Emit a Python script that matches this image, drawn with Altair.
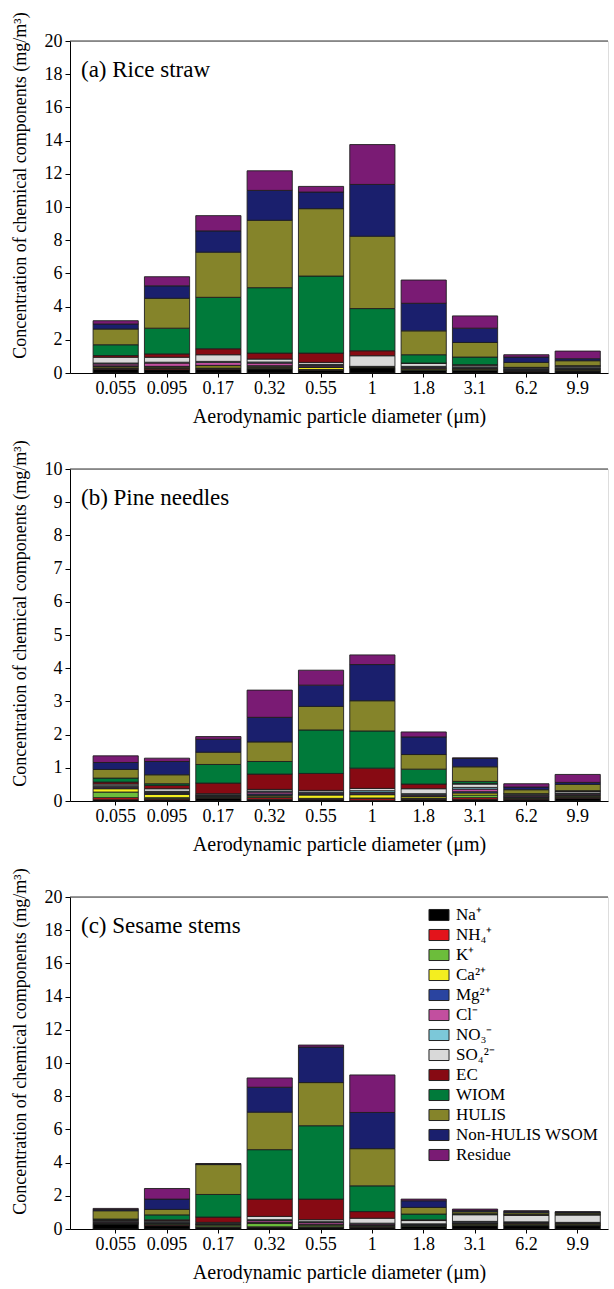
import altair as alt
import pandas as pd

SIZES = ["0.055", "0.095", "0.17", "0.32", "0.55", "1", "1.8", "3.1", "6.2", "9.9"]
COMPONENTS = ["Na⁺", "NH₄⁺", "K⁺", "Ca²⁺", "Mg²⁺", "Cl⁻", "NO₃⁻", "SO₄²⁻",
              "EC", "WIOM", "HULIS", "Non-HULIS WSOM", "Residue"]
COLORS = ["#000000", "#e3141b", "#6cbd3b", "#f4ee1f", "#2a44a0", "#c24f9f",
          "#7cc8d9", "#d9d9d9", "#870a13", "#007a3a", "#85842a", "#1a1f6d", "#7a1b74"]

# (a) Rice straw, one list per component, values per size bin
RICE = {
    "Na⁺":            [0.22, 0.20, 0.22, 0.25, 0.15, 0.32, 0.15, 0.15, 0.10, 0.12],
    "NH₄⁺":           [0.05, 0.08, 0.05, 0.04, 0.03, 0.02, 0.02, 0.02, 0.02, 0.02],
    "K⁺":             [0.05, 0.04, 0.04, 0.04, 0.03, 0.01, 0.03, 0.02, 0.02, 0.02],
    "Ca²⁺":           [0.08, 0.05, 0.12, 0.08, 0.12, 0.02, 0.06, 0.05, 0.03, 0.06],
    "Mg²⁺":           [0.03, 0.03, 0.03, 0.03, 0.05, 0.01, 0.03, 0.03, 0.02, 0.02],
    "Cl⁻":            [0.12, 0.20, 0.18, 0.16, 0.08, 0.01, 0.05, 0.05, 0.03, 0.04],
    "NO₃⁻":           [0.05, 0.05, 0.06, 0.06, 0.06, 0.01, 0.06, 0.05, 0.03, 0.04],
    "SO₄²⁻":          [0.35, 0.30, 0.40, 0.18, 0.12, 0.64, 0.18, 0.10, 0.06, 0.10],
    "EC":             [0.10, 0.20, 0.36, 0.36, 0.56, 0.30, 0.02, 0.03, 0.01, 0.01],
    "WIOM":           [0.65, 1.55, 3.10, 3.94, 4.64, 2.54, 0.50, 0.46, 0.02, 0.01],
    "HULIS":          [0.95, 1.80, 2.72, 4.06, 4.06, 4.36, 1.44, 0.88, 0.30, 0.30],
    "Non-HULIS WSOM": [0.30, 0.75, 1.28, 1.80, 1.00, 3.12, 1.66, 0.86, 0.32, 0.12],
    "Residue":        [0.20, 0.55, 0.92, 1.18, 0.34, 2.40, 1.40, 0.74, 0.14, 0.46],
}

# (b) Pine needles
PINE = {
    "Na⁺":            [0.04, 0.04, 0.08, 0.05, 0.04, 0.02, 0.05, 0.05, 0.04, 0.08],
    "NH₄⁺":           [0.06, 0.03, 0.02, 0.05, 0.02, 0.05, 0.02, 0.05, 0.02, 0.03],
    "K⁺":             [0.17, 0.03, 0.02, 0.03, 0.02, 0.02, 0.02, 0.08, 0.02, 0.03],
    "Ca²⁺":           [0.10, 0.10, 0.02, 0.04, 0.10, 0.10, 0.05, 0.06, 0.02, 0.03],
    "Mg²⁺":           [0.03, 0.03, 0.02, 0.04, 0.03, 0.03, 0.02, 0.04, 0.02, 0.02],
    "Cl⁻":            [0.03, 0.03, 0.02, 0.06, 0.03, 0.04, 0.03, 0.08, 0.03, 0.03],
    "NO₃⁻":           [0.03, 0.03, 0.01, 0.03, 0.03, 0.05, 0.03, 0.05, 0.02, 0.02],
    "SO₄²⁻":          [0.05, 0.08, 0.03, 0.05, 0.05, 0.07, 0.15, 0.10, 0.04, 0.05],
    "EC":             [0.06, 0.10, 0.32, 0.46, 0.51, 0.61, 0.14, 0.02, 0.01, 0.01],
    "WIOM":           [0.12, 0.05, 0.56, 0.38, 1.31, 1.12, 0.45, 0.06, 0.00, 0.01],
    "HULIS":          [0.26, 0.27, 0.37, 0.59, 0.71, 0.91, 0.44, 0.44, 0.12, 0.19],
    "Non-HULIS WSOM": [0.21, 0.40, 0.39, 0.74, 0.64, 1.09, 0.53, 0.25, 0.08, 0.06],
    "Residue":        [0.20, 0.10, 0.08, 0.82, 0.45, 0.29, 0.15, 0.02, 0.10, 0.24],
}

# (c) Sesame stems
SESAME = {
    "Na⁺":            [0.30, 0.20, 0.10, 0.10, 0.10, 0.10, 0.15, 0.20, 0.20, 0.20],
    "NH₄⁺":           [0.03, 0.05, 0.03, 0.03, 0.03, 0.03, 0.02, 0.03, 0.02, 0.02],
    "K⁺":             [0.03, 0.05, 0.10, 0.20, 0.10, 0.05, 0.03, 0.05, 0.04, 0.03],
    "Ca²⁺":           [0.02, 0.03, 0.03, 0.05, 0.03, 0.03, 0.03, 0.05, 0.05, 0.05],
    "Mg²⁺":           [0.02, 0.03, 0.02, 0.03, 0.03, 0.03, 0.02, 0.03, 0.03, 0.03],
    "Cl⁻":            [0.05, 0.05, 0.03, 0.10, 0.10, 0.06, 0.03, 0.05, 0.05, 0.04],
    "NO₃⁻":           [0.02, 0.03, 0.02, 0.05, 0.05, 0.05, 0.03, 0.05, 0.04, 0.03],
    "SO₄²⁻":          [0.05, 0.06, 0.07, 0.20, 0.12, 0.30, 0.20, 0.40, 0.40, 0.45],
    "EC":             [0.03, 0.05, 0.32, 1.04, 1.24, 0.40, 0.04, 0.02, 0.02, 0.01],
    "WIOM":           [0.05, 0.30, 1.36, 2.98, 4.42, 1.55, 0.35, 0.04, 0.03, 0.02],
    "HULIS":          [0.50, 0.33, 1.80, 2.26, 2.60, 2.24, 0.40, 0.12, 0.10, 0.08],
    "Non-HULIS WSOM": [0.07, 0.62, 0.04, 1.50, 2.14, 2.18, 0.40, 0.08, 0.08, 0.06],
    "Residue":        [0.07, 0.64, 0.02, 0.56, 0.12, 2.26, 0.10, 0.08, 0.04, 0.02],
}

FONT = "Liberation Serif"
W, H = 538, 332
YTITLE = "Concentration of chemical components (mg/m³)"
XTITLE = "Aerodynamic particle diameter (μm)"


def to_long(d):
    rows = []
    for ci, comp in enumerate(COMPONENTS):
        for si, s in enumerate(SIZES):
            rows.append({"size": s, "comp": comp, "idx": ci, "value": d[comp][si]})
    return pd.DataFrame(rows)


def panel(d, label, ymax, step, legend):
    color_scale = alt.Scale(domain=COMPONENTS, range=COLORS)
    if legend:
        leg = alt.Legend(
            orient="none", legendX=360, legendY=9, title=None,
            symbolType="M-1.18,-0.65L1.18,-0.65L1.18,0.65L-1.18,0.65Z", symbolSize=289,
            symbolStrokeColor="#222222", symbolStrokeWidth=1, symbolOpacity=1,
            labelFont=FONT, labelFontSize=17, labelColor="black",
            rowPadding=3, labelOffset=8, labelLimit=300,
        )
    else:
        leg = None
    yscale = alt.Scale(domain=[0, ymax], nice=False)
    bars = alt.Chart(to_long(d)).mark_bar(stroke="#1e1e1e", strokeWidth=0.9).encode(
        x=alt.X("size:N", sort=SIZES,
                scale=alt.Scale(paddingInner=0.12, paddingOuter=0.3, align=0.75),
                axis=alt.Axis(title=XTITLE, labelAngle=0, labelFont=FONT, labelFontSize=18,
                              labelColor="black", titleFont=FONT, titleFontSize=20,
                              titleFontWeight="normal", titleColor="black", titlePadding=9,
                              labelPadding=2, tickSize=4, tickColor="black",
                              domainColor="black", grid=False)),
        y=alt.Y("value:Q", stack="zero", scale=yscale,
                axis=alt.Axis(title=YTITLE, values=list(range(0, ymax + 1, step)),
                              labelOverlap=False,
                              labelFont=FONT, labelFontSize=18, labelColor="black",
                              titleFont=FONT, titleFontSize=18, titleFontWeight="normal",
                              titleColor="black", titlePadding=15, labelPadding=3,
                              titleY=144,
                              tickSize=5, tickColor="black", domainColor="black", grid=False)),
        color=alt.Color("comp:N", scale=color_scale, legend=leg, sort=COMPONENTS),
        order=alt.Order("idx:Q", sort="ascending"),
    )
    top = alt.Chart(pd.DataFrame({"t": [label]})).mark_rule(color="#333333", strokeWidth=1).encode(
        y=alt.value(0))
    txt = alt.Chart(pd.DataFrame({"t": [label]})).mark_text(
        align="left", baseline="alphabetic", font=FONT, fontSize=23, color="black").encode(
        text="t:N", x=alt.value(11), y=alt.value(36))
    return alt.layer(bars, top, txt).properties(width=W, height=H)


chart = alt.vconcat(
    panel(RICE, "(a) Rice straw", 20, 2, False),
    panel(PINE, "(b) Pine needles", 10, 1, False),
    panel(SESAME, "(c) Sesame stems", 20, 2, True),
    spacing=12,
).resolve_scale(color="independent").resolve_legend(color="independent").properties(
    padding={"top": 11, "left": 10, "right": 0, "bottom": 0}
).configure_view(stroke=None).configure_axisY(labelOverlap=False).configure(background="white")

chart.save("out.html", embed_options={"renderer": "svg", "actions": False})
